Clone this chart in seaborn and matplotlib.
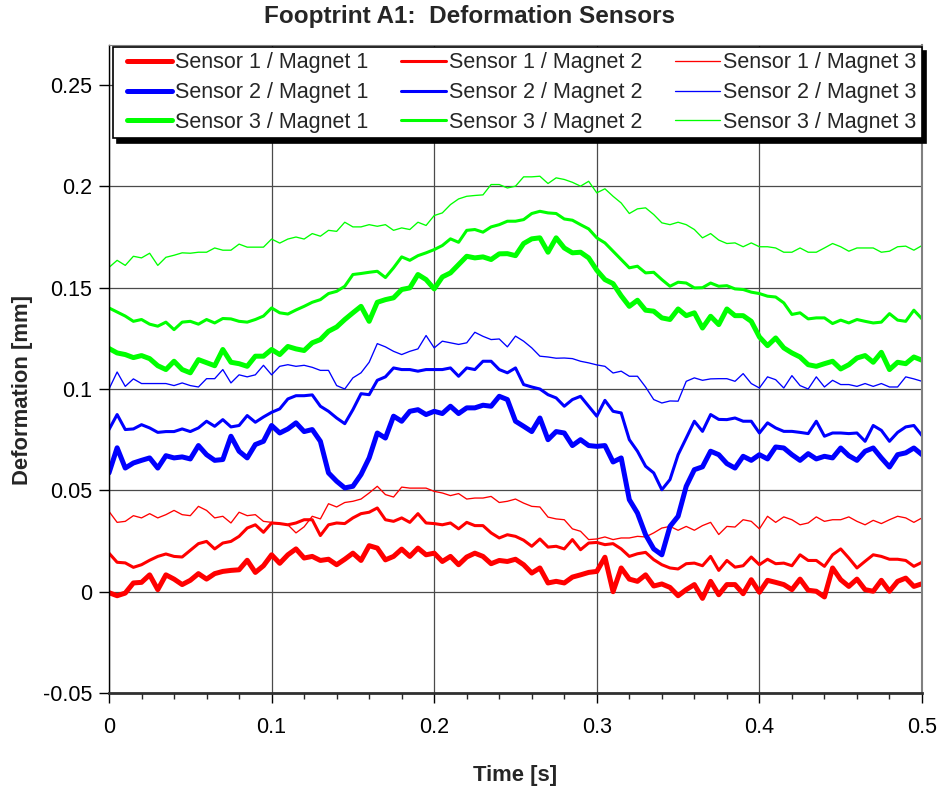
import numpy as np
import matplotlib
matplotlib.use("Agg")
import matplotlib.pyplot as plt
import seaborn as sns
from matplotlib.ticker import MultipleLocator
from matplotlib.lines import Line2D
from matplotlib.legend_handler import HandlerLine2D

# ---------------- data ----------------
time_s = np.round(np.arange(101) * 0.005, 3)

s1_m1 = [-0.0005, -0.002, -0.0007, 0.0043, 0.0046, 0.0083, 0.0010, 0.0083, 0.0062, 0.0035, 0.0056, 0.0089, 0.0062, 0.0089, 0.0100, 0.0105, 0.0108, 0.0155, 0.0095, 0.0128, 0.0182, 0.0140, 0.0182, 0.0211, 0.0166,
         0.0174, 0.0154, 0.0160, 0.0133, 0.0160, 0.0190, 0.0154, 0.0227, 0.0215, 0.0157, 0.0174, 0.0210, 0.0174, 0.0215, 0.0182, 0.0190, 0.0149, 0.0174, 0.0133, 0.0171, 0.0190, 0.0174, 0.0138, 0.0154, 0.0149,
         0.0160, 0.0133, 0.0092, 0.0117, 0.0043, 0.0051, 0.0043, 0.0072, 0.0083, 0.0095, 0.0100, 0.0170, 0.0000, 0.0117, 0.0062, 0.0051, 0.0083, 0.0028, 0.0038, 0.0021, -0.0020, 0.0010, 0.0035, -0.0033, 0.0051,
         -0.0015, 0.0035, 0.0035, -0.0010, 0.0059, -0.0003, 0.0056, 0.0046, 0.0035, 0.0010, 0.0062, 0.0007, 0.0002, -0.0026, 0.0117, 0.0059, 0.0026, 0.0062, 0.0010, 0.0002, 0.0056, 0.0002, 0.0051, 0.0067, 0.0026, 0.0039]

s1_m2 = [0.0190, 0.0145, 0.0142, 0.0120, 0.0133, 0.0155, 0.0174, 0.0186, 0.0174, 0.0171, 0.0204, 0.0237, 0.0248, 0.0211, 0.0240, 0.0248, 0.0273, 0.0314, 0.0330, 0.0293, 0.0339, 0.0336, 0.0330, 0.0339, 0.0355,
         0.0355, 0.0277, 0.0330, 0.0339, 0.0336, 0.0364, 0.0385, 0.0392, 0.0413, 0.0355, 0.0347, 0.0364, 0.0342, 0.0385, 0.0339, 0.0336, 0.0330, 0.0339, 0.0310, 0.0342, 0.0326, 0.0326, 0.0290, 0.0265, 0.0281,
         0.0273, 0.0254, 0.0224, 0.0260, 0.0220, 0.0224, 0.0211, 0.0257, 0.0207, 0.0240, 0.0243, 0.0232, 0.0237, 0.0211, 0.0174, 0.0187, 0.0194, 0.0158, 0.0133, 0.0117, 0.0112, 0.0138, 0.0141, 0.0128, 0.0174,
         0.0105, 0.0154, 0.0121, 0.0128, 0.0171, 0.0133, 0.0160, 0.0138, 0.0141, 0.0128, 0.0182, 0.0154, 0.0154, 0.0125, 0.0182, 0.0211, 0.0166, 0.0117, 0.0150, 0.0182, 0.0174, 0.0160, 0.0160, 0.0154, 0.0125, 0.0145]

s1_m3 = [0.0396, 0.0342, 0.0347, 0.0375, 0.0364, 0.0385, 0.0364, 0.0380, 0.0401, 0.0380, 0.0375, 0.0421, 0.0401, 0.0364, 0.0372, 0.0339, 0.0392, 0.0375, 0.0380, 0.0347, 0.0342, 0.0336, 0.0330, 0.0290, 0.0320,
         0.0372, 0.0359, 0.0434, 0.0418, 0.0440, 0.0446, 0.0457, 0.0487, 0.0520, 0.0479, 0.0467, 0.0516, 0.0511, 0.0511, 0.0511, 0.0495, 0.0487, 0.0474, 0.0484, 0.0457, 0.0462, 0.0462, 0.0470, 0.0440, 0.0446,
         0.0457, 0.0437, 0.0421, 0.0418, 0.0368, 0.0359, 0.0355, 0.0310, 0.0298, 0.0257, 0.0260, 0.0270, 0.0257, 0.0265, 0.0265, 0.0273, 0.0270, 0.0290, 0.0314, 0.0322, 0.0303, 0.0322, 0.0303, 0.0326, 0.0342,
         0.0282, 0.0322, 0.0319, 0.0355, 0.0347, 0.0310, 0.0372, 0.0342, 0.0369, 0.0355, 0.0330, 0.0339, 0.0369, 0.0347, 0.0355, 0.0355, 0.0369, 0.0347, 0.0330, 0.0352, 0.0336, 0.0355, 0.0372, 0.0364, 0.0342, 0.0364]

s2_m1 = [0.0586, 0.0710, 0.0610, 0.0635, 0.0648, 0.0660, 0.0610, 0.0671, 0.0660, 0.0665, 0.0655, 0.0721, 0.0676, 0.0648, 0.0652, 0.0767, 0.0693, 0.0660, 0.0726, 0.0742, 0.0820, 0.0783, 0.0803, 0.0833, 0.0790,
         0.0800, 0.0742, 0.0586, 0.0545, 0.0512, 0.0520, 0.0578, 0.0660, 0.0783, 0.0758, 0.0866, 0.0841, 0.0890, 0.0898, 0.0874, 0.0890, 0.0879, 0.0915, 0.0879, 0.0907, 0.0907, 0.0920, 0.0915, 0.0964, 0.0948,
         0.0841, 0.0816, 0.0790, 0.0857, 0.0750, 0.0790, 0.0783, 0.0721, 0.0750, 0.0721, 0.0717, 0.0721, 0.0640, 0.0660, 0.0454, 0.0388, 0.0281, 0.0211, 0.0182, 0.0322, 0.0372, 0.0520, 0.0602, 0.0616, 0.0693,
         0.0676, 0.0632, 0.0610, 0.0668, 0.0648, 0.0676, 0.0655, 0.0714, 0.0709, 0.0676, 0.0648, 0.0681, 0.0655, 0.0668, 0.0660, 0.0709, 0.0671, 0.0648, 0.0693, 0.0709, 0.0660, 0.0615, 0.0676, 0.0685, 0.0709, 0.0676]

s2_m2 = [0.0800, 0.0874, 0.0800, 0.0803, 0.0824, 0.0808, 0.0786, 0.0790, 0.0790, 0.0803, 0.0790, 0.0808, 0.0841, 0.0816, 0.0849, 0.0813, 0.0820, 0.0869, 0.0836, 0.0862, 0.0885, 0.0902, 0.0951, 0.0967, 0.0967,
         0.0971, 0.0915, 0.0890, 0.0857, 0.0829, 0.0898, 0.0977, 0.0972, 0.1043, 0.1060, 0.1104, 0.1096, 0.1096, 0.1088, 0.1096, 0.1096, 0.1096, 0.1104, 0.1063, 0.1104, 0.1096, 0.1137, 0.1137, 0.1096, 0.1080,
         0.1104, 0.1022, 0.1010, 0.1000, 0.0972, 0.0956, 0.0915, 0.0948, 0.0964, 0.0915, 0.0866, 0.0944, 0.0890, 0.0882, 0.0750, 0.0693, 0.0619, 0.0586, 0.0503, 0.0553, 0.0676, 0.0758, 0.0841, 0.0791, 0.0874,
         0.0850, 0.0849, 0.0857, 0.0841, 0.0841, 0.0783, 0.0833, 0.0808, 0.0791, 0.0791, 0.0786, 0.0780, 0.0841, 0.0767, 0.0783, 0.0783, 0.0780, 0.0783, 0.0742, 0.0820, 0.0796, 0.0742, 0.0786, 0.0813, 0.0820, 0.0770]

s2_m3 = [0.1000, 0.1084, 0.1013, 0.1050, 0.1027, 0.1027, 0.1027, 0.1027, 0.1017, 0.1030, 0.1017, 0.1010, 0.1051, 0.1051, 0.1096, 0.1030, 0.1070, 0.1060, 0.1070, 0.1117, 0.1070, 0.1112, 0.1120, 0.1112, 0.1117,
         0.1107, 0.1092, 0.1092, 0.1017, 0.1000, 0.1055, 0.1080, 0.1132, 0.1224, 0.1208, 0.1186, 0.1170, 0.1186, 0.1198, 0.1264, 0.1203, 0.1236, 0.1228, 0.1220, 0.1228, 0.1280, 0.1260, 0.1244, 0.1247, 0.1208,
         0.1261, 0.1236, 0.1203, 0.1162, 0.1158, 0.1152, 0.1153, 0.1150, 0.1137, 0.1129, 0.1119, 0.1112, 0.1079, 0.1088, 0.1063, 0.1063, 0.1010, 0.0948, 0.0931, 0.0941, 0.0940, 0.1038, 0.1055, 0.1043, 0.1050,
         0.1051, 0.1051, 0.1038, 0.1076, 0.1027, 0.1005, 0.1060, 0.1046, 0.1005, 0.1066, 0.1017, 0.1000, 0.1060, 0.1010, 0.1043, 0.1022, 0.1022, 0.1013, 0.1027, 0.1013, 0.1027, 0.1010, 0.1010, 0.1060, 0.1050, 0.1038]

s3_m1 = [0.1200, 0.1178, 0.1170, 0.1155, 0.1165, 0.1150, 0.1115, 0.1096, 0.1137, 0.1096, 0.1080, 0.1145, 0.1130, 0.1115, 0.1195, 0.1132, 0.1125, 0.1112, 0.1162, 0.1162, 0.1195, 0.1170, 0.1210, 0.1198, 0.1190,
         0.1228, 0.1244, 0.1285, 0.1306, 0.1343, 0.1376, 0.1408, 0.1334, 0.1428, 0.1441, 0.1450, 0.1491, 0.1499, 0.1565, 0.1540, 0.1494, 0.1553, 0.1573, 0.1614, 0.1655, 0.1647, 0.1652, 0.1639, 0.1667, 0.1668,
         0.1658, 0.1718, 0.1741, 0.1746, 0.1675, 0.1746, 0.1696, 0.1672, 0.1675, 0.1647, 0.1586, 0.1540, 0.1520, 0.1460, 0.1408, 0.1438, 0.1389, 0.1384, 0.1351, 0.1343, 0.1395, 0.1362, 0.1376, 0.1301, 0.1359,
         0.1318, 0.1395, 0.1362, 0.1362, 0.1334, 0.1257, 0.1214, 0.1252, 0.1203, 0.1178, 0.1158, 0.1120, 0.1112, 0.1125, 0.1137, 0.1099, 0.1120, 0.1153, 0.1165, 0.1132, 0.1181, 0.1096, 0.1132, 0.1125, 0.1158, 0.1142]

s3_m2 = [0.1400, 0.1380, 0.1360, 0.1334, 0.1343, 0.1320, 0.1310, 0.1330, 0.1293, 0.1330, 0.1334, 0.1320, 0.1343, 0.1326, 0.1348, 0.1346, 0.1334, 0.1330, 0.1343, 0.1360, 0.1400, 0.1376, 0.1370, 0.1390, 0.1408,
         0.1428, 0.1441, 0.1471, 0.1482, 0.1507, 0.1565, 0.1570, 0.1576, 0.1581, 0.1550, 0.1598, 0.1652, 0.1635, 0.1658, 0.1672, 0.1688, 0.1708, 0.1741, 0.1724, 0.1783, 0.1787, 0.1774, 0.1800, 0.1811, 0.1828,
         0.1828, 0.1836, 0.1866, 0.1877, 0.1869, 0.1866, 0.1839, 0.1833, 0.1811, 0.1790, 0.1746, 0.1721, 0.1680, 0.1639, 0.1598, 0.1606, 0.1573, 0.1576, 0.1540, 0.1507, 0.1527, 0.1523, 0.1499, 0.1500, 0.1523,
         0.1507, 0.1510, 0.1494, 0.1491, 0.1478, 0.1471, 0.1458, 0.1454, 0.1425, 0.1368, 0.1376, 0.1346, 0.1351, 0.1351, 0.1323, 0.1340, 0.1326, 0.1343, 0.1334, 0.1326, 0.1330, 0.1372, 0.1340, 0.1334, 0.1389, 0.1346]

s3_m3 = [0.1600, 0.1635, 0.1610, 0.1655, 0.1647, 0.1670, 0.1610, 0.1650, 0.1660, 0.1672, 0.1670, 0.1675, 0.1675, 0.1696, 0.1685, 0.1685, 0.1715, 0.1700, 0.1700, 0.1700, 0.1740, 0.1720, 0.1740, 0.1750, 0.1740,
         0.1767, 0.1754, 0.1783, 0.1778, 0.1823, 0.1800, 0.1800, 0.1811, 0.1803, 0.1811, 0.1783, 0.1795, 0.1787, 0.1823, 0.1807, 0.1856, 0.1869, 0.1910, 0.1938, 0.1951, 0.1955, 0.1958, 0.2009, 0.2009, 0.1992,
         0.2001, 0.2047, 0.2047, 0.2050, 0.2014, 0.2042, 0.2034, 0.2020, 0.2001, 0.2025, 0.1968, 0.1988, 0.1951, 0.1918, 0.1866, 0.1889, 0.1894, 0.1861, 0.1820, 0.1811, 0.1823, 0.1811, 0.1787, 0.1746, 0.1767,
         0.1735, 0.1718, 0.1721, 0.1702, 0.1721, 0.1702, 0.1702, 0.1696, 0.1675, 0.1675, 0.1696, 0.1675, 0.1675, 0.1696, 0.1718, 0.1702, 0.1680, 0.1696, 0.1696, 0.1696, 0.1675, 0.1680, 0.1702, 0.1705, 0.1685, 0.1708]

series_labels = ["Sensor 1 / Magnet 1", "Sensor 1 / Magnet 2", "Sensor 1 / Magnet 3",
                 "Sensor 2 / Magnet 1", "Sensor 2 / Magnet 2", "Sensor 2 / Magnet 3",
                 "Sensor 3 / Magnet 1", "Sensor 3 / Magnet 2", "Sensor 3 / Magnet 3"]
x_ticks = [0, 0.1, 0.2, 0.3, 0.4, 0.5]
x_tick_labels = ["0", "0.1", "0.2", "0.3", "0.4", "0.5"]
y_ticks = [-0.05, 0, 0.05, 0.1, 0.15, 0.2, 0.25]
y_tick_labels = ["-0.05", "0", "0.05", "0.1", "0.15", "0.2", "0.25"]

# ---------------- styling ----------------
sns.set_style("white")
plt.rcParams['font.family'] = ['Liberation Sans', 'DejaVu Sans']

series_values = [s1_m1, s1_m2, s1_m3, s2_m1, s2_m2, s2_m3, s3_m1, s3_m2, s3_m3]
series_colors = ["#FF0000"] * 3 + ["#0000FF"] * 3 + ["#00FF00"] * 3
series_widths = [3.6, 2.2, 0.95] * 3

W, H = 939, 796
fig = plt.figure(figsize=(W / 100, H / 100), dpi=100)
ax = fig.add_axes([109 / W, 1 - 693 / H, (922 - 109) / W, (693 - 44.5) / H])

handles = []
for vals, lab, col, lw in zip(series_values, series_labels, series_colors, series_widths):
    sns.lineplot(x=time_s, y=vals, ax=ax, color=col, linewidth=lw, label=lab,
                 legend=False, solid_joinstyle="round", solid_capstyle="round")
    handles.append(ax.lines[-1])

ax.set_xlim(0, 0.5)
ax.set_ylim(-0.05, 0.27)
ax.set_xticks(x_ticks)
ax.set_xticklabels(x_tick_labels)
ax.set_yticks(y_ticks)
ax.set_yticklabels(y_tick_labels)
ax.xaxis.set_minor_locator(MultipleLocator(0.02))
ax.tick_params(axis="both", which="major", direction="out", length=7, width=1,
               labelsize=15.5, colors="black", bottom=True, left=True, pad=5)
ax.tick_params(axis="x", which="minor", direction="out", length=4, width=1, bottom=True)
ax.tick_params(axis="x", which="major", pad=10)

ax.grid(True, which="major", color="#4a4a4a", linewidth=0.9)
ax.set_axisbelow(True)
for side, sp in ax.spines.items():
    sp.set_visible(True)
ax.spines["left"].set_color("black")
ax.spines["left"].set_linewidth(1.0)
ax.spines["bottom"].set_color("#303030")
ax.spines["bottom"].set_linewidth(2.0)
ax.spines["right"].set_color("#808080")
ax.spines["right"].set_linewidth(1.5)
ax.spines["top"].set_color("#808080")

ax.set_xlabel("Time [s]", fontsize=15.8, fontweight="bold")
ax.xaxis.label.set_va("center")
ax.xaxis.set_label_coords(0.5, (693 - 776) / 648.5)
ax.set_ylabel("Deformation [mm]", fontsize=15.8, fontweight="bold")
ax.yaxis.label.set_va("center")
ax.yaxis.label.set_ha("center")
ax.yaxis.set_label_coords((23 - 109) / 813, (693 - 390) / 648.5)

fig.text(470 / W, 1 - 17 / H, "Fooptrint A1:  Deformation Sensors", ha="center", va="center",
         fontsize=17.5, fontweight="bold")

order = [0, 3, 6, 1, 4, 7, 2, 5, 8]
leg = ax.legend([handles[i] for i in order], [series_labels[i] for i in order],
                ncol=3, loc="upper left",
                bbox_to_anchor=(113 / W, 1 - 139 / H, 809 / W, 92 / H),
                bbox_transform=fig.transFigure, mode="expand", borderaxespad=0,
                fontsize=15.5, handlelength=2.5, handletextpad=0.14, columnspacing=1.0,
                labelspacing=0.41, borderpad=0.25, fancybox=False, framealpha=1,
                edgecolor="black", facecolor="white",
                handler_map={Line2D: HandlerLine2D(xpad=0.4)},
                shadow={"ox": 3, "oy": -3, "color": "black", "alpha": 1})
leg.get_frame().set_linewidth(1.2)
leg.set_zorder(10)

fig.savefig("out.png", dpi=100)
